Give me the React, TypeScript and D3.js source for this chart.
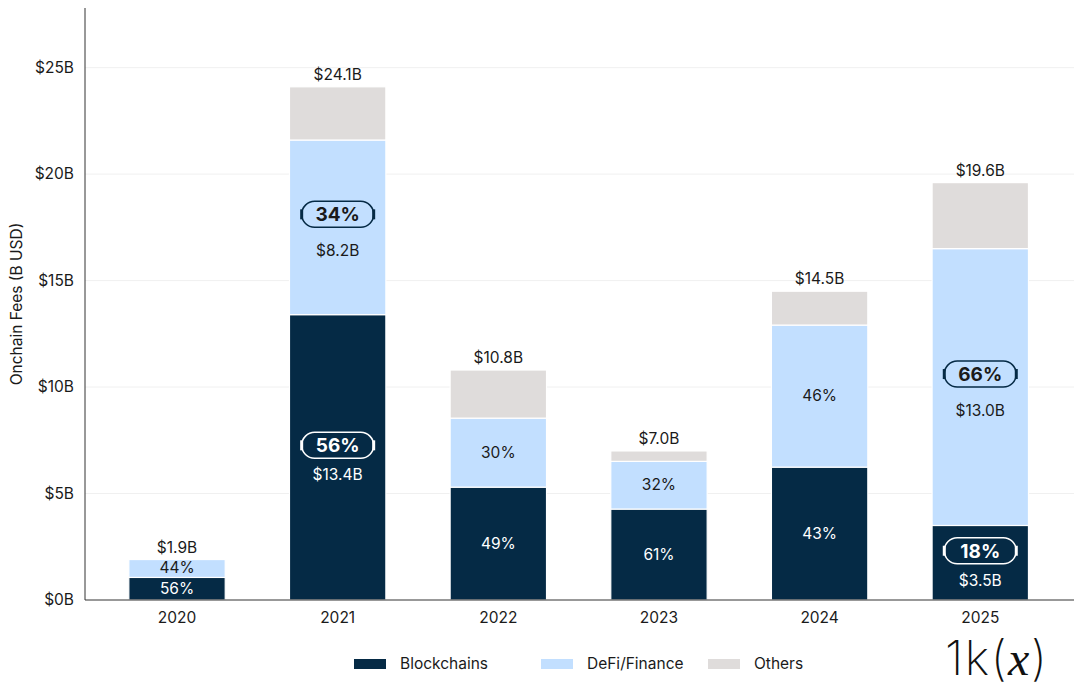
import React from "react";
import * as d3 from "d3";

const years = ["2020", "2021", "2022", "2023", "2024", "2025"];
const blockchains = [1.06, 13.4, 5.3, 4.27, 6.24, 3.5];
const defi = [0.84, 8.2, 3.24, 2.24, 6.67, 13.0];
const others = [0.0, 2.5, 2.26, 0.49, 1.59, 3.1];
const totals = ["$1.9B", "$24.1B", "$10.8B", "$7.0B", "$14.5B", "$19.6B"];
const blockPct = ["56%", "56%", "49%", "61%", "43%", "18%"];
const defiPct = ["44%", "34%", "30%", "32%", "46%", "66%"];
const blockHighlight = [false, true, false, false, false, true];
const defiHighlight = [false, true, false, false, false, true];
const blockValue = ["", "$13.4B", "", "", "", "$3.5B"];
const defiValue = ["", "$8.2B", "", "", "", "$13.0B"];
const yTicks = [0, 5, 10, 15, 20, 25];
const seriesNames = ["Blockchains", "DeFi/Finance", "Others"];
const colors = ["#052a45", "#c2dfff", "#dfdcdb"];

const W = 1084;
const H = 689;
const FONT = "Inter, 'Liberation Sans', sans-serif";

function Pill({ cx, cy, text, dark }: { cx: number; cy: number; text: string; dark: boolean }) {
  const w = 72;
  const h = 26;
  const stroke = dark ? "#ffffff" : "#052a45";
  const fill = dark ? "#ffffff" : "#1a1a1a";
  return (
    <g>
      <rect x={cx - w / 2} y={cy - h / 2} width={w} height={h} rx={13} fill="none" stroke={stroke} strokeWidth={1.5} />
      <line x1={cx - w / 2} x2={cx - w / 2} y1={cy - 5} y2={cy + 5} stroke={stroke} strokeWidth={3} />
      <line x1={cx + w / 2} x2={cx + w / 2} y1={cy - 5} y2={cy + 5} stroke={stroke} strokeWidth={3} />
      <text x={cx} y={cy + 7} textAnchor="middle" fontSize={19} fontWeight={700} fill={fill} fontFamily={FONT}>
        {text}
      </text>
    </g>
  );
}

export default function App() {
  const x = d3.scaleBand<string>().domain(years).range([96.7, 1060.6]).paddingInner(0.4).paddingOuter(0.2);
  const y = d3.scaleLinear().domain([0, 27.8]).range([600, 8]);
  const stackData = years.map((yr, i) => ({ year: yr, b: blockchains[i], d: defi[i], o: others[i] }));
  const stack = d3.stack<any>().keys(["b", "d", "o"])(stackData);

  return (
    <svg width={W} height={H} style={{ position: "absolute", left: 0, top: 0, background: "#fff" }} fontFamily={FONT}>
      {yTicks.slice(1).map((t) => (
        <line key={t} x1={85} x2={1074} y1={y(t)} y2={y(t)} stroke="#f0f0f0" strokeWidth={1} />
      ))}
      {stack.map((s, si) =>
        s.map((seg, i) => {
          const h = y(seg[0]) - y(seg[1]);
          if (h <= 0) return null;
          return (
            <rect
              key={si + "-" + i}
              x={x(years[i])}
              y={y(seg[1])}
              width={x.bandwidth()}
              height={h}
              fill={colors[si]}
              stroke="#ffffff"
              strokeWidth={1.2}
            />
          );
        })
      )}
      {years.map((yr, i) => {
        const cx = (x(yr) as number) + x.bandwidth() / 2;
        const bMid = (y(0) + y(blockchains[i])) / 2;
        const dMid = (y(blockchains[i]) + y(blockchains[i] + defi[i])) / 2;
        const total = blockchains[i] + defi[i] + others[i];
        return (
          <g key={yr}>
            <text x={cx} y={y(total) - 7} textAnchor="middle" fontSize={15.5} fill="#1a1a1a">
              {totals[i]}
            </text>
            {blockHighlight[i] ? (
              <g>
                <Pill cx={cx} cy={bMid - 12} text={blockPct[i]} dark={true} />
                <text x={cx} y={bMid + 23} textAnchor="middle" fontSize={15.5} fill="#ffffff">
                  {blockValue[i]}
                </text>
              </g>
            ) : (
              <text x={cx} y={bMid + 5} textAnchor="middle" fontSize={15.5} fill="#ffffff">
                {blockPct[i]}
              </text>
            )}
            {defiHighlight[i] ? (
              <g>
                <Pill cx={cx} cy={dMid - 13} text={defiPct[i]} dark={false} />
                <text x={cx} y={dMid + 29} textAnchor="middle" fontSize={15.5} fill="#1a1a1a">
                  {defiValue[i]}
                </text>
              </g>
            ) : (
              <text x={cx} y={dMid + 5} textAnchor="middle" fontSize={15.5} fill="#1a1a1a">
                {defiPct[i]}
              </text>
            )}
          </g>
        );
      })}
      <line x1={85} x2={85} y1={8} y2={600} stroke="#333" strokeWidth={1} />
      <line x1={85} x2={1074} y1={600} y2={600} stroke="#333" strokeWidth={1} />
      {yTicks.map((t) => (
        <text key={t} x={74} y={y(t) + 5} textAnchor="end" fontSize={15.5} fill="#1a1a1a">
          {"$" + t + "B"}
        </text>
      ))}
      {years.map((yr) => (
        <text key={yr} x={(x(yr) as number) + x.bandwidth() / 2} y={623} textAnchor="middle" fontSize={15.5} fill="#1a1a1a">
          {yr}
        </text>
      ))}
      <text transform={`translate(22,304) rotate(-90)`} textAnchor="middle" fontSize={15.5} fill="#1a1a1a">
        Onchain Fees (B USD)
      </text>
      {seriesNames.map((n, i) => {
        const lx = [354, 541, 708][i];
        return (
          <g key={n}>
            <rect x={lx} y={659} width={32} height={10} fill={colors[i]} />
            <text x={lx + 46} y={669} fontSize={15.5} fill="#1a1a1a">
              {n}
            </text>
          </g>
        );
      })}
      <text x={945} y={675} fontSize={48} fill="#111" fontFamily={FONT} fontWeight={200} letterSpacing={1.5}>
        <tspan>1k(</tspan>
        <tspan fontFamily="'Liberation Serif', serif" fontStyle="italic" fontWeight={400}>x</tspan>
        <tspan>)</tspan>
      </text>
    </svg>
  );
}
